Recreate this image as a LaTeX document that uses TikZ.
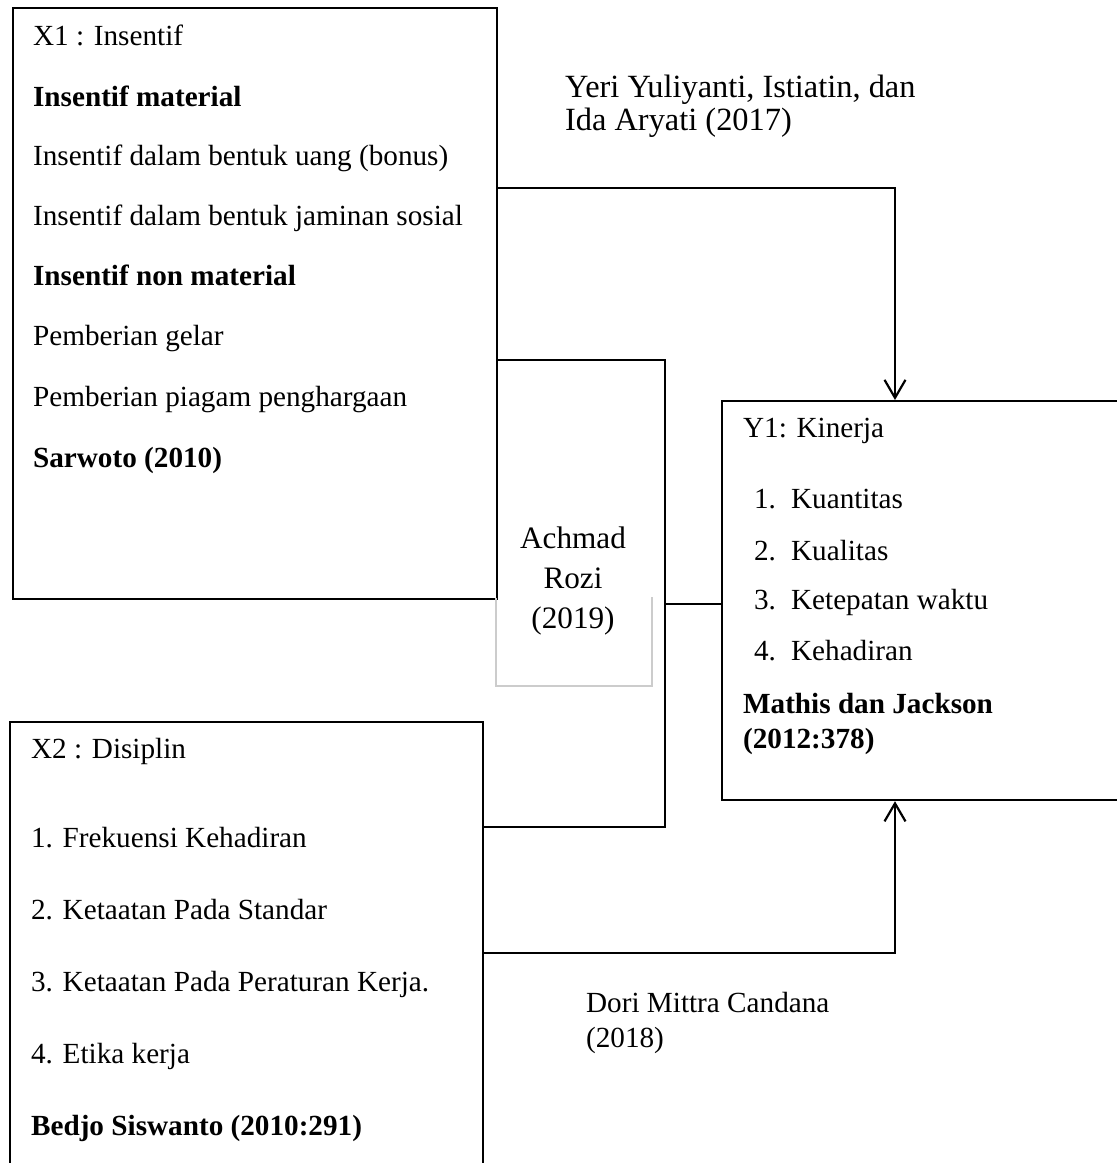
\documentclass[tikz,border=0pt]{standalone}
\usepackage{fontspec}
\setmainfont{Liberation Serif}
\usetikzlibrary{arrows.meta}
\tikzset{
    %Define standard arrow tip
    >={Straight Barb[length=9pt,width=10.5pt]},
    %Define style for boxes
    varbox/.style={
           rectangle,
           draw=black, line width=1.1pt,
           anchor=north west,
           inner sep=0pt},
    item/.style={
           anchor=base west,
           inner sep=0pt,
           font=\fontsize{14.6}{17}\selectfont},
    cite/.style={
           inner sep=0pt,
           font=\fontsize{15.6}{19}\selectfont},
    % Define line style
    pil/.style={
           line width=1.1pt}
}

\begin{document}
\begin{tikzpicture}[x=0.5pt,y=-0.5pt,pil]
\useasboundingbox (0,0) rectangle (1117,1163);
\clip (0,0) rectangle (1117,1163);

% boxes
\node[varbox, minimum width=242pt, minimum height=295.5pt] (x1) at (12,7) {};
\node[varbox, minimum width=236.5pt, minimum height=232pt] (x2) at (9,721) {};
\node[varbox, minimum width=212pt, minimum height=199.5pt] (y1) at (721,400) {};
\draw[black!20, line width=0.6pt] (496,598) -- (496,686) -- (652,686) -- (652,597);

% texts
\foreach \y/\t [count=\i] in {45/{X1 : Insentif}, 106/{\textbf{Insentif material}},
    165/{Insentif dalam bentuk uang (bonus)}, 225/{Insentif dalam bentuk jaminan sosial},
    285/{\textbf{Insentif non material}}, 345/{Pemberian gelar},
    406/{Pemberian piagam penghargaan}, 467/{\textbf{Sarwoto (2010)}}}
  \node[item] (x1-\i) at (32,\y) {\t};
\foreach \y/\t [count=\i] in {758/{X2 : Disiplin}, 847/{1. Frekuensi Kehadiran},
    919/{2. Ketaatan Pada Standar}, 991/{3. Ketaatan Pada Peraturan Kerja.},
    1063/{4. Etika kerja}, 1135/{\textbf{Bedjo Siswanto (2010:291)}}}
  \node[item] (x2-\i) at (30,\y) {\t};
\node[item] (y1-0) at (742,437) {Y1: Kinerja};
\foreach \y/\t [count=\i] in {508/Kuantitas, 560/Kualitas, 609/{Ketepatan waktu}, 660/Kehadiran}{
  \node[item] (n-\i) at (753,\y) {\i.};
  \node[item] (y1-\i) at (790,\y) {\t};
}
\node[item] (y1-5) at (742,713) {\textbf{Mathis dan Jackson}};
\node[item] (y1-6) at (742,748) {\textbf{(2012:378)}};

% references on the connectors
\node[cite, anchor=base west, font=\fontsize{16.2}{19}\selectfont] (r1a) at (564,97) {Yeri Yuliyanti, Istiatin, dan};
\node[cite, anchor=base west, font=\fontsize{16.2}{19}\selectfont] (r1b) at (564,130) {Ida Aryati (2017)};
\foreach \y/\t [count=\i] in {548/Achmad, 588/Rozi, 628/(2019)}
  \node[cite, anchor=base] (r2-\i) at (573,\y) {\t};
\node[item] (r3a) at (585,1012) {Dori Mittra Candana};
\node[item] (r3b) at (585,1047) {(2018)};

% connectors
\coordinate (t) at (895,188);
\coordinate (b) at (895,953);
\coordinate (m1) at (665,360);
\coordinate (m2) at (665,827);
\coordinate (j) at (665,604);
\draw[->] (x1.east |- t) -- (t) -- (y1.north -| t);
\draw (x1.east |- m1) -- (m1) -- (m2) -- (x2.east |- m2);
\draw (j) -- (y1.west |- j);
\draw[->] (x2.east |- b) -- (b) -- (y1.south -| b);
\end{tikzpicture}
\end{document}
